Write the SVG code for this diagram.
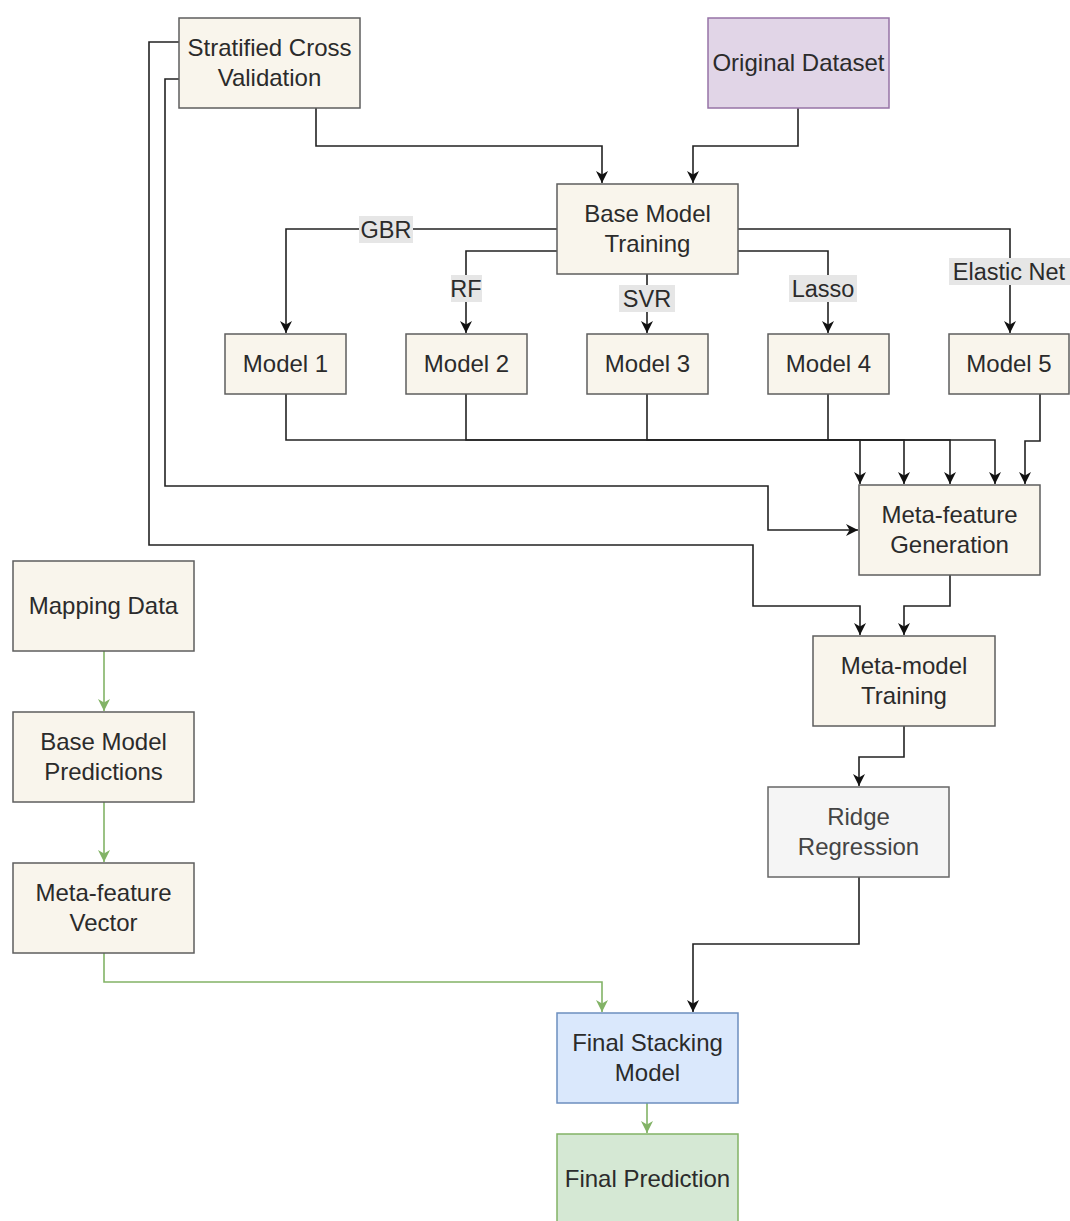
<svg xmlns="http://www.w3.org/2000/svg" width="1070" height="1221" viewBox="0 0 1070 1221">
<style>
.n{fill:#f9f5ec;stroke:#5e5e5e;stroke-width:1.5}
.t{font-family:"Liberation Sans",Arial,sans-serif;font-size:24px;fill:#2b2b2b;text-anchor:middle}
.lb{font-family:"Liberation Sans",Arial,sans-serif;font-size:23.5px;fill:#2b2b2b;text-anchor:middle}
.lbg{fill:#e6e6e6}
.k{fill:none;stroke:#222;stroke-width:1.6}
.g{fill:none;stroke:#82b366;stroke-width:1.6}
</style>
<defs>
<marker id="ak" viewBox="0 0 10 10" refX="10" refY="5" markerWidth="12" markerHeight="12" markerUnits="userSpaceOnUse" orient="auto">
<path d="M0,0 L10,5 L0,10 L3,5 Z" fill="#111"/>
</marker>
<marker id="ag" viewBox="0 0 10 10" refX="10" refY="5" markerWidth="12" markerHeight="12" markerUnits="userSpaceOnUse" orient="auto">
<path d="M0,0 L10,5 L0,10 L3,5 Z" fill="#82b366"/>
</marker>
</defs>
<g id="connectors">
<path class="k" d="M316,108 V146 H602 V183" marker-end="url(#ak)"/>
<path class="k" d="M798,108 V146 H693 V183" marker-end="url(#ak)"/>
<path class="k" d="M557,229 H286 V333" marker-end="url(#ak)"/>
<path class="k" d="M557,251 H466 V333" marker-end="url(#ak)"/>
<path class="k" d="M647,274 V333" marker-end="url(#ak)"/>
<path class="k" d="M738,251 H828 V333" marker-end="url(#ak)"/>
<path class="k" d="M738,229 H1010 V333" marker-end="url(#ak)"/>
<path class="k" d="M286,394 V440 H860 V484" marker-end="url(#ak)"/>
<path class="k" d="M466,394 V440 H904 V484" marker-end="url(#ak)"/>
<path class="k" d="M647,394 V440 H950 V484" marker-end="url(#ak)"/>
<path class="k" d="M828,394 V440 H995 V484" marker-end="url(#ak)"/>
<path class="k" d="M1040,394 V441 H1025 V484" marker-end="url(#ak)"/>
<path class="k" d="M179,79 H165 V486 H768 V530 H858" marker-end="url(#ak)"/>
<path class="k" d="M179,42 H149 V545 H753 V606 H860 V635" marker-end="url(#ak)"/>
<path class="k" d="M950,575 V606 H904 V635" marker-end="url(#ak)"/>
<path class="k" d="M904,726 V757 H859 V786" marker-end="url(#ak)"/>
<path class="k" d="M859,877 V944 H693 V1012" marker-end="url(#ak)"/>
<path class="g" d="M104,651 V711" marker-end="url(#ag)"/>
<path class="g" d="M104,802 V862" marker-end="url(#ag)"/>
<path class="g" d="M104,953 V982 H602 V1012" marker-end="url(#ag)"/>
<path class="g" d="M647,1103 V1133" marker-end="url(#ag)"/>
<rect class="lbg" x="359" y="216" width="54" height="27"/>
<text class="lb" x="386" y="238">GBR</text>
<rect class="lbg" x="451" y="275" width="31" height="27"/>
<text class="lb" x="466" y="297">RF</text>
<rect class="lbg" x="619" y="285" width="56" height="27"/>
<text class="lb" x="647" y="307">SVR</text>
<rect class="lbg" x="789" y="275" width="68" height="27"/>
<text class="lb" x="823" y="297">Lasso</text>
<rect class="lbg" x="949" y="258" width="121" height="27"/>
<text class="lb" x="1009" y="280">Elastic Net</text>
</g>
<g id="scv"><rect class="n" x="179" y="18" width="181" height="90"/><text class="t" x="269.5" y="56">Stratified Cross</text><text class="t" x="269.5" y="86">Validation</text></g>
<g id="original"><rect x="708" y="18" width="181" height="90" fill="#e1d5e7" stroke="#9673a6" stroke-width="1.5"/><text class="t" x="798.5" y="71">Original Dataset</text></g>
<g id="bmt"><rect class="n" x="557" y="184" width="181" height="90"/><text class="t" x="647.5" y="222">Base Model</text><text class="t" x="647.5" y="252">Training</text></g>
<g id="m1"><rect class="n" x="225" y="334" width="121" height="60"/><text class="t" x="285.5" y="372">Model 1</text></g>
<g id="m2"><rect class="n" x="406" y="334" width="121" height="60"/><text class="t" x="466.5" y="372">Model 2</text></g>
<g id="m3"><rect class="n" x="587" y="334" width="121" height="60"/><text class="t" x="647.5" y="372">Model 3</text></g>
<g id="m4"><rect class="n" x="768" y="334" width="121" height="60"/><text class="t" x="828.5" y="372">Model 4</text></g>
<g id="m5"><rect class="n" x="949" y="334" width="120" height="60"/><text class="t" x="1009" y="372">Model 5</text></g>
<g id="mfg"><rect class="n" x="859" y="485" width="181" height="90"/><text class="t" x="949.5" y="523">Meta-feature</text><text class="t" x="949.5" y="553">Generation</text></g>
<g id="mmt"><rect class="n" x="813" y="636" width="182" height="90"/><text class="t" x="904" y="674">Meta-model</text><text class="t" x="904" y="704">Training</text></g>
<g id="ridge"><rect x="768" y="787" width="181" height="90" fill="#f5f5f5" stroke="#666" stroke-width="1.5"/><text class="t" x="858.5" y="825" style="fill:#444">Ridge</text><text class="t" x="858.5" y="855" style="fill:#444">Regression</text></g>
<g id="mapping"><rect class="n" x="13" y="561" width="181" height="90"/><text class="t" x="103.5" y="614">Mapping Data</text></g>
<g id="bmp"><rect class="n" x="13" y="712" width="181" height="90"/><text class="t" x="103.5" y="750">Base Model</text><text class="t" x="103.5" y="780">Predictions</text></g>
<g id="mfv"><rect class="n" x="13" y="863" width="181" height="90"/><text class="t" x="103.5" y="901">Meta-feature</text><text class="t" x="103.5" y="931">Vector</text></g>
<g id="fsm"><rect x="557" y="1013" width="181" height="90" fill="#dae8fc" stroke="#6c8ebf" stroke-width="1.5"/><text class="t" x="647.5" y="1051">Final Stacking</text><text class="t" x="647.5" y="1081">Model</text></g>
<g id="fp"><rect x="557" y="1134" width="181" height="90" fill="#d5e8d4" stroke="#82b366" stroke-width="1.5"/><text class="t" x="647.5" y="1187">Final Prediction</text></g>
</svg>
